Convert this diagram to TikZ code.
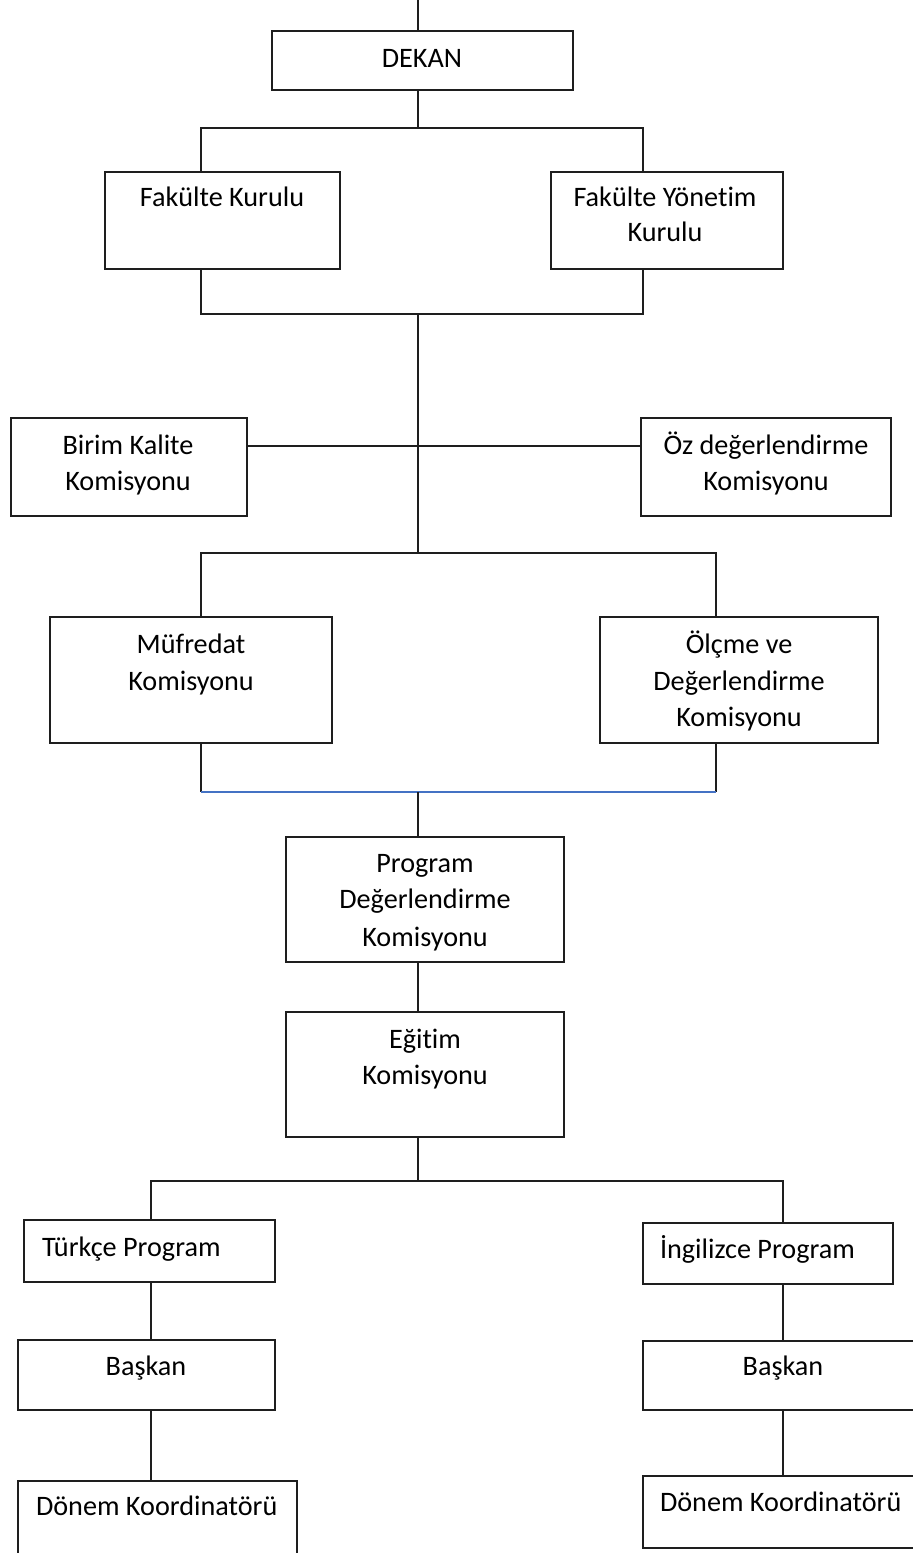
\documentclass[tikz,border=0pt]{standalone}
\usepackage{fontspec}
\setmainfont{Carlito}[Ligatures=NoCommon]
\definecolor{linec}{RGB}{30,30,30}
\definecolor{offblue}{RGB}{68,114,196}
\tikzset{
  box/.style={draw=linec, line width=1pt, inner sep=0pt, outer sep=0pt, rectangle},
  conn/.style={draw=linec, line width=0.8pt},
  blueconn/.style={draw=offblue, line width=0.7pt},
  txt/.style={inner sep=0pt, outer sep=0pt, anchor=base, font=\fontsize{14.1}{18}\selectfont, text=black},
  txtl/.style={txt, anchor=base west}
}
\newcommand{\bx}[5]{\node[box, minimum width={(#4-#2)*0.5pt}, minimum height={(#5-#3)*0.5pt}] (#1) at ({(#2+#4)/2},{(#3+#5)/2}) {};}
\begin{document}
\begin{tikzpicture}[x=0.5pt, y=-0.5pt]
\useasboundingbox (0,0) rectangle (913,1553);
% boxes
\bx{dekan}{272}{31}{573}{90}
\bx{fk}{105}{172}{340}{269}
\bx{fyk}{551}{172}{783}{269}
\bx{birim}{11}{418}{247}{516}
\bx{oz}{641}{418}{891}{516}
\bx{muf}{50}{617}{332}{743}
\bx{olc}{600}{617}{878}{743}
\bx{pdk}{286}{837}{564}{962}
\bx{egt}{286}{1012}{564}{1137}
\bx{tr}{24}{1220}{275}{1282}
\bx{en}{643}{1223}{893}{1284}
\bx{bl}{18}{1340}{275}{1410}
\bx{br}{643}{1341}{922}{1410}
\bx{dl}{18}{1481}{297}{1558}
\bx{dr}{643}{1476}{922}{1548}
% texts
\node[txt] (t1) at (422,67) {DEKAN};
\node[txt] (t2) at (222,206) {Fakülte Kurulu};
\node[txt] (t3) at (665,206) {Fakülte Yönetim};
\node[txt] (t4) at (665,241) {Kurulu};
\node[txt] (t5) at (128,454) {Birim Kalite};
\node[txt] (t6) at (128,490) {Komisyonu};
\node[txt] (t7) at (766,454) {Öz değerlendirme};
\node[txt] (t8) at (766,490) {Komisyonu};
\node[txt] (t9) at (191,653) {Müfredat};
\node[txt] (t10) at (191,690) {Komisyonu};
\node[txt] (t11) at (739,653) {Ölçme ve};
\node[txt] (t12) at (739,690) {Değerlendirme};
\node[txt] (t13) at (739,726) {Komisyonu};
\node[txt] (t14) at (425,872) {Program};
\node[txt] (t15) at (425,908) {Değerlendirme};
\node[txt] (t16) at (425,946) {Komisyonu};
\node[txt] (t17) at (425,1048) {Eğitim};
\node[txt] (t18) at (425,1084) {Komisyonu};
\node[txtl] (t19) at (42,1256) {Türkçe Program};
\node[txtl] (t20) at (660,1258) {İngilizce Program};
\node[txt] (t21) at (146,1375) {Başkan};
\node[txt] (t22) at (783,1375) {Başkan};
\node[txtl] (t23) at (36,1515) {Dönem Koordinatörü};
\node[txtl] (t24) at (660,1511) {Dönem Koordinatörü};
% junctions
\coordinate (top) at (418,0);
\coordinate (j1) at (418,128);
\coordinate (j2) at (418,314);
\coordinate (j3) at (418,553);
\coordinate (j4) at (418,792);
\coordinate (j5) at (418,1181);
\coordinate (h1) at (0,446);
\coordinate (xL1) at (201,0);
\coordinate (xR1) at (643,0);
\coordinate (xR2) at (716,0);
\coordinate (xL3) at (151,0);
\coordinate (xR3) at (783,0);
% connectors
\draw[conn] (top) -- (top |- dekan.north);
\draw[conn] (j1 |- dekan.south) -- (j1);
\draw[conn] (xL1 |- fk.north) |- (j1) -| (xR1 |- fyk.north);
\draw[conn] (xL1 |- fk.south) |- (j2) -| (xR1 |- fyk.south);
\draw[conn] (j2) -- (j3);
\draw[conn] (birim.east |- h1) -- (oz.west |- h1);
\draw[conn] (xL1 |- muf.north) |- (j3) -| (xR2 |- olc.north);
\draw[conn] (xL1 |- muf.south) -- (xL1 |- j4);
\draw[conn] (xR2 |- olc.south) -- (xR2 |- j4);
\draw[blueconn] (xL1 |- j4) -- (xR2 |- j4);
\draw[conn] (j4) -- (j4 |- pdk.north);
\draw[conn] (j4 |- pdk.south) -- (j4 |- egt.north);
\draw[conn] (j4 |- egt.south) -- (j5);
\draw[conn] (xL3 |- tr.north) |- (j5) -| (xR3 |- en.north);
\draw[conn] (xL3 |- tr.south) -- (xL3 |- bl.north);
\draw[conn] (xL3 |- bl.south) -- (xL3 |- dl.north);
\draw[conn] (xR3 |- en.south) -- (xR3 |- br.north);
\draw[conn] (xR3 |- br.south) -- (xR3 |- dr.north);
\end{tikzpicture}
\end{document}
